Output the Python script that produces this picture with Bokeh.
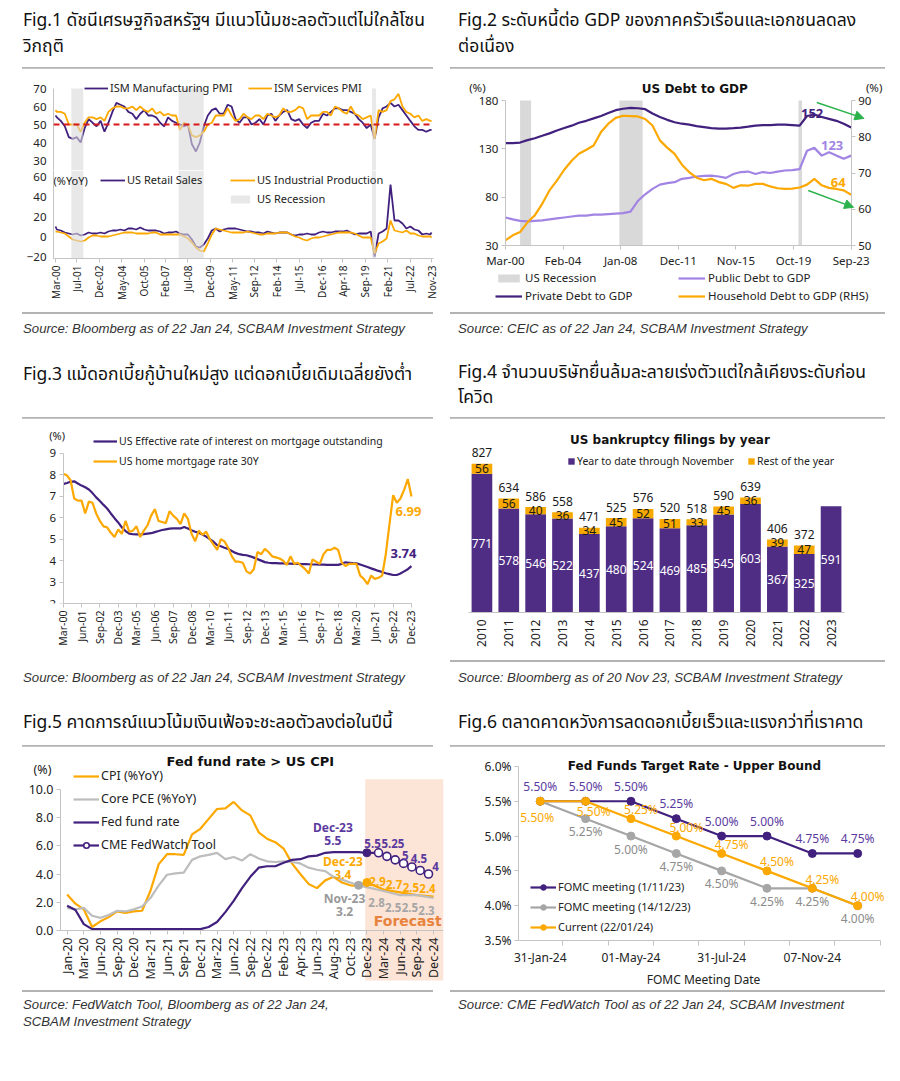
import math
import pandas as pd
from bokeh.plotting import figure
from bokeh.layouts import column, row
from bokeh.models import (ColumnDataSource, Range1d, LinearAxis, FixedTicker, Span, Legend, LegendItem,
                          Label, LabelSet, Arrow, NormalHead, BoxAnnotation, Div, FactorRange,
                          DatetimeTickFormatter, PrintfTickFormatter)
from bokeh.core.properties import value
from bokeh.embed import file_html
from bokeh.resources import INLINE

# ======================= DATA =======================
# Fig.1
fig1_ticks = ["Mar-00", "Jul-01", "Dec-02", "May-04", "Oct-05", "Feb-07", "Jul-08", "Dec-09", "May-11",
              "Sep-12", "Feb-14", "Jul-15", "Dec-16", "Apr-18", "Sep-19", "Feb-21", "Jul-22", "Nov-23"]
fig1_dates = (["2000-03"] + [f"{y}-{m:02d}" for y in range(2000, 2024) for m in (1, 4, 7, 10)
                             if "2000-04" <= f"{y}-{m:02d}" <= "2023-10"] + ["2023-11"])
ism_mfg = [55,
           54, 52, 49,
           43, 42, 43, 40, 48, 53, 51, 49, 52, 46, 51, 57, 62, 61, 60, 57, 56, 53, 56, 58,
           55, 55, 54, 51, 49, 54, 52, 51, 50, 49, 50, 39, 35, 40, 49, 55, 58, 59, 56, 56,
           61, 60, 53, 51, 54, 54, 50, 51, 53, 50, 55, 56, 52, 55, 57, 58, 53, 52, 53, 50,
           48, 51, 52, 52, 56, 55, 57, 59, 59, 58, 58, 57, 56, 53, 51, 48, 50, 42, 54, 59,
           60, 62, 60, 61, 58, 55, 52, 49,
           47, 47, 46, 47, 47]
ism_svc = [58,
           57, 57, 56,
           50, 50, 50, 46, 51, 54, 54, 53, 54, 52, 57, 59, 60, 60, 59, 59, 60, 58, 60, 58,
           57, 59, 56, 57, 55, 56, 55, 55, 47, 51, 50, 44, 43, 44, 46, 50, 51, 55, 55, 55,
           59, 55, 52, 53, 56, 54, 53, 55, 55, 53, 56, 55, 54, 55, 59, 57, 57, 58, 60, 59,
           53, 55, 55, 55, 57, 57, 55, 60, 59, 57, 56, 60, 56, 55, 53, 54, 55, 42, 58, 57,
           58, 63, 64, 67, 60, 57, 56, 54,
           55, 52, 53, 52, 52]
retail = [10,
          7, 6, 4,
          3, 2, 3, 1, 2, 4, 3, 3, 4, 3, 5, 6, 6, 7, 6, 8, 8, 7, 9, 7,
          6, 6, 6, 5, 3, 4, 4, 5, 3, 2, 2, -3, -10, -11, -8, -2, 6, 8, 5, 7,
          8, 8, 8, 7, 6, 5, 5, 4, 4, 3, 5, 4, 3, 4, 4, 4, 2, 1, 2, 2,
          3, 2, 2, 4, 5, 4, 4, 5, 5, 5, 6, 4, 2, 3, 3, 3, 5, -20, 3, 5,
          8, 52, 16, 16, 13, 8, 10, 7,
          6, 2, 3, 2, 4]
indprod = [5,
           5, 4, 3,
           0, -3, -4, -5, -4, -1, 1, 1, 0, 0, 0, 1, 2, 3, 4, 4, 4, 3, 3, 3,
           3, 4, 4, 2, 2, 2, 2, 2, 2, 0, -2, -6, -11, -14, -15, -7, 2, 8, 7, 6,
           5, 4, 4, 4, 4, 5, 4, 3, 2, 2, 3, 3, 3, 4, 4, 4, 2, 0, -1, -3,
           -4, -2, -1, -1, 0, 1, 2, 3, 4, 4, 4, 4, 3, 1, -1, -1, -1, -17, -7, -5,
           -2, 16, 6, 5, 4, 6, 3, 3,
           1, 0, 0, 0, -1]
recession_start = ["2001-03-01", "2007-12-01", "2020-02-01"]
recession_end = ["2001-11-30", "2009-06-30", "2020-04-30"]

# Fig.2 (semi-annual, Mar-00 .. Sep-23)
fig2_ticks = ["Mar-00", "Feb-04", "Jan-08", "Dec-11", "Nov-15", "Oct-19", "Sep-23"]
fig2_dates = [f"{2000 + (2 + 6 * k) // 12}-{(2 + 6 * k) % 12 + 1:02d}" for k in range(48)]
private_debt = [136, 136, 136.5, 139, 141, 143.5, 146, 149, 151.5, 154,
                157, 159, 161.5, 164, 167, 170, 171.5, 172.4, 172, 171,
                166.5, 163, 160, 157.5, 156, 155, 153.5, 152.5, 151.5, 151,
                151, 151.5, 152, 153, 154, 154.5, 154.5, 155, 155, 154.5,
                154, 164, 165.5, 163, 161, 159, 156, 152]
public_debt = [59, 57, 55.5, 55, 55.5, 56, 57, 58, 59, 60,
               61, 61, 62, 62, 62.5, 63, 63.5, 65, 76, 83,
               88.6, 93, 94.5, 95.5, 99, 100, 101.4, 102, 102.4, 101.4,
               100, 104, 106, 106.5, 104, 106, 105, 106.5, 107.6, 108,
               109, 128, 131, 123, 126.6, 123, 119.7, 123]
household_debt = [51.4, 52.8, 53.7, 56.4, 58.3, 61.5, 65.2, 67.9, 70.9, 73.4,
                  75.3, 76.4, 77.6, 81.3, 83.6, 85.2, 85.8, 85.7, 85.6, 84.9,
                  83.1, 79, 77, 75.3, 72.3, 70.2, 68.7, 68, 68.4, 67.5,
                  67, 65.9, 66.6, 66.5, 67, 67, 66.3, 65.8, 65.6, 65.7,
                  66, 66.8, 68.4, 66.6, 65.9, 65.6, 65.2, 64]

# Fig.3 (quarterly, Mar-00 .. Dec-23)
fig3_ticks = ["Mar-00", "Jun-01", "Sep-02", "Dec-03", "Mar-05", "Jun-06", "Sep-07", "Dec-08", "Mar-10",
              "Jun-11", "Sep-12", "Dec-13", "Mar-15", "Jun-16", "Sep-17", "Dec-18", "Mar-20", "Jun-21",
              "Sep-22", "Dec-23"]
fig3_dates = [f"{2000 + (2 + 3 * k) // 12}-{(2 + 3 * k) % 12 + 1:02d}" for k in range(96)]
mort_eff = [7.57, 7.62, 7.68, 7.7, 7.6, 7.5, 7.42, 7.32, 7.15, 6.95,
            6.78, 6.6, 6.43, 6.2, 5.98, 5.78, 5.55, 5.38, 5.26, 5.23,
            5.22, 5.22, 5.24, 5.26, 5.28, 5.33, 5.38, 5.43, 5.46, 5.49,
            5.5, 5.5, 5.5, 5.57, 5.5, 5.42, 5.35, 5.3, 5.22, 5.12,
            5.0, 4.88, 4.72, 4.67, 4.6, 4.55, 4.45, 4.36, 4.3, 4.27,
            4.25, 4.2, 4.14, 4.07, 4.0, 3.93, 3.9, 3.88, 3.88, 3.87,
            3.87, 3.86, 3.86, 3.85, 3.85, 3.84, 3.84, 3.83, 3.82, 3.82,
            3.81, 3.81, 3.8, 3.8, 3.8, 3.8, 3.85, 3.92, 3.9, 3.88,
            3.87, 3.82, 3.76, 3.7, 3.64, 3.58, 3.52, 3.47, 3.41, 3.37,
            3.33, 3.33, 3.4, 3.5, 3.6, 3.74]
mort_30y = [8.05, 7.98, 7.75, 6.9, 6.8, 6.8, 6.2, 6.75, 6.7, 6.2,
            5.85, 5.6, 5.55, 5.3, 5.1, 5.45, 5.25, 5.85, 5.35, 5.4,
            5.6, 5.1, 5.4, 5.65, 6.1, 6.4, 5.85, 5.8, 5.75, 6.3,
            6.1, 5.95, 5.7, 6.2, 5.95, 5.25, 4.9, 5.4, 5.2, 5.35,
            5.0, 4.75, 4.5, 5.0, 4.9, 4.6, 4.2, 3.95, 3.95, 3.9,
            3.5, 3.4, 3.6, 4.4, 4.3, 4.55, 4.4, 4.2, 4.15, 4.1,
            4.0, 3.8, 4.2, 3.85, 3.9, 3.75, 3.6, 3.4, 4.05, 3.95,
            3.85, 4.3, 4.5, 4.5, 4.6, 4.5, 3.9, 3.75, 3.85, 3.85,
            3.85, 3.3, 3.15, 2.9, 3.3, 3.15, 3.2, 3.3, 4.3, 5.7,
            7.05, 6.7, 6.9, 7.3, 7.8, 6.99]

# Fig.4
bk_years = ["2010", "2011", "2012", "2013", "2014", "2015", "2016", "2017", "2018", "2019",
            "2020", "2021", "2022", "2023"]
bk_ytd = [771, 578, 546, 522, 437, 480, 524, 469, 485, 545, 603, 367, 325, 591]
bk_rest = [56, 56, 40, 36, 34, 45, 52, 51, 33, 45, 36, 39, 47, 0]
bk_total = [827, 634, 586, 558, 471, 525, 576, 520, 518, 590, 639, 406, 372, None]

# Fig.5
fig5_labels = ["Jan-20", "Mar-20", "Jun-20", "Sep-20", "Dec-20", "Mar-21", "Jun-21", "Sep-21", "Dec-21",
               "Mar-22", "Jun-22", "Sep-22", "Dec-22", "Feb-23", "Apr-23", "Jun-23", "Aug-23", "Oct-23",
               "Dec-23", "Mar-24", "Jun-24", "Sep-24", "Dec-24"]
hist_x = [k / 2 for k in range(37)]
cpi = [2.55, 1.9, 1.5, 0.25, 0.65, 0.95, 1.35, 1.25, 1.35, 1.4,
       2.8, 4.7, 5.4, 5.4, 5.35, 6.8, 7.2, 7.9, 8.6, 8.65,
       9.1, 8.5, 8.15, 6.95, 6.5, 6.25, 5.8, 4.75, 4.0, 3.3,
       3.0, 3.55, 3.8, 3.4, 3.2, 3.15, 3.4]
core_pce = [1.6, 1.5, 1.6, 1.05, 0.9, 1.1, 1.4, 1.35, 1.5, 1.7,
            2.3, 3.2, 3.95, 4.05, 4.1, 5.0, 5.25, 5.35, 5.5, 5.05,
            5.2, 4.95, 5.4, 5.1, 4.9, 4.85, 4.9, 4.85, 4.75, 4.45,
            4.3, 4.2, 3.8, 3.6, 3.4, 3.2]
fed_funds = [1.75, 1.45, 0.45, 0.1, 0.1, 0.1, 0.1, 0.1, 0.1, 0.1,
             0.1, 0.1, 0.1, 0.1, 0.1, 0.1, 0.1, 0.25, 0.6, 1.3,
             2.1, 3.0, 3.8, 4.45, 4.55, 4.55, 4.8, 5.0, 5.05, 5.25,
             5.3, 5.5, 5.55, 5.55, 5.55, 5.55, 5.5]
cpi_fc_x = [18, 19, 20, 21, 22]
cpi_fc = [3.4, 2.9, 2.7, 2.5, 2.4]
pce_fc_x = [17.5, 19, 20, 21, 22]
pce_fc = [3.2, 2.8, 2.5, 2.5, 2.3]
fedwatch_x = [18, 18.7, 19.2, 19.7, 20.2, 20.7, 21.2, 21.7]
fedwatch = [5.5, 5.5, 5.25, 5.0, 4.75, 4.5, 4.25, 4.0]
fedwatch_labels = ["", "5.5", "5.25", "5", "", "4.5", "", "4"]

# Fig.6
fomc_dates = ["31-Jan-24", "20-Mar-24", "01-May-24", "12-Jun-24", "31-Jul-24", "18-Sep-24", "07-Nov-24",
              "18-Dec-24"]
fomc_nov = [5.50, 5.50, 5.50, 5.25, 5.00, 5.00, 4.75, 4.75]
fomc_dec = [5.50, 5.25, 5.00, 4.75, 4.50, 4.25, 4.25, 4.00]
fomc_cur = [5.50, 5.50, 5.25, 5.00, 4.75, 4.50, 4.25, 4.00]

# ======================= STYLE =======================
PUR = "#41207e"
ORG = "#fca800"
LAV = "#a184e3"
GRY = "#bdbdbd"
REC = "#d9d9d9"
AXC = "#c4c4c4"
TXT = "#222222"
F = "Noto Sans"
FB = "DejaVu Sans"
TH = "'Noto Sans Thai','Noto Sans Thai Looped','Garuda','Loma','Noto Sans',sans-serif"
SRCF = "'Liberation Sans',Arial,sans-serif"


def ts(s):
    return pd.Timestamp(s)


def ms(s):
    return pd.Timestamp(s).value / 1e6


def tick_ms(labels):
    return [pd.to_datetime(l, format="%b-%y").value / 1e6 for l in labels]


DTF = DatetimeTickFormatter(days="%b-%y", months="%b-%y", years="%b-%y")


def fig(**kw):
    p = figure(output_backend="svg", toolbar_location=None, **kw)
    p.grid.visible = False
    p.outline_line_color = None
    p.background_fill_color = "white"
    p.border_fill_color = "white"
    return p


def style_axes(p, fs="11px"):
    for ax in p.axis:
        ax.axis_line_color = AXC
        ax.major_tick_line_color = AXC
        ax.minor_tick_line_color = None
        ax.major_tick_in = 0
        ax.major_tick_out = 4
        ax.major_label_text_font = F
        ax.major_label_text_font_size = fs
        ax.major_label_text_color = TXT
        ax.major_label_standoff = 3


def legend(items, loc, fs="11px", **kw):
    return Legend(items=[LegendItem(label=l, renderers=r) for l, r in items], location=loc,
                  background_fill_alpha=0, border_line_color=None, label_text_font=F,
                  label_text_font_size=fs, label_text_color=TXT, padding=0, margin=0, **kw)


def lab(p, x, y, text, color, size="12px", bold=True, dx=0, dy=0, align="center", font=F, **kw):
    p.add_layout(Label(x=x, y=y, text=text, x_offset=dx, y_offset=dy, text_color=color,
                       text_font_size=size, text_font_style="bold" if bold else "normal",
                       text_align=align, text_baseline="middle", text_font=font, **kw))


def sep_html(left, width, top):
    return (f'<div style="position:absolute;left:{left}px;top:{top}px;width:{width}px;'
            f'height:0;border-top:2px solid #b3b3b3;"></div>')


def title_div(w, h, left, top, html, sep_left, sep_w, sep_top, lh=26):
    sep = sep_html(sep_left, sep_w, sep_top) if sep_top is not None else ""
    t = (f'<div style="position:relative;width:{w}px;height:{h}px;">'
         f'<div style="position:absolute;left:{left}px;top:{top}px;font-family:{TH};font-size:17.5px;'
         f'line-height:{lh}px;color:#111;white-space:nowrap;">{html}</div>{sep}</div>')
    return Div(text=t, width=w, height=h, margin=(0, 0, 0, 0))


def src_div(w, h, left, top, html, sep_left, sep_w, sep_top):
    sep = sep_html(sep_left, sep_w, sep_top) if sep_top is not None else ""
    t = (f'<div style="position:relative;width:{w}px;height:{h}px;">{sep}'
         f'<div style="position:absolute;left:{left}px;top:{top}px;font-family:{SRCF};font-style:italic;'
         f'font-size:13.2px;line-height:17px;color:#333;white-space:nowrap;">{html}</div></div>')
    return Div(text=t, width=w, height=h, margin=(0, 0, 0, 0))


LW, RW = 442, 440

# ======================= FIG 1 =======================
src1 = ColumnDataSource(dict(x=[ts(d + "-01") for d in fig1_dates], mfg=ism_mfg, svc=ism_svc,
                             rs=retail, ip=indprod))
rec_src = ColumnDataSource(dict(l=[ts(s) for s in recession_start], r=[ts(s) for s in recession_end]))
xr1 = Range1d(ts("2000-01-15"), ts("2023-12-15"))
PMI_LO, PMI_HI = 24.45, 76.67
p1a = fig(width=LW, height=102, x_axis_type="datetime", x_range=xr1, y_range=Range1d(PMI_LO, PMI_HI),
          min_border_left=45, min_border_right=17, min_border_top=8, min_border_bottom=0, title=None)
r_m = p1a.line("x", "mfg", source=src1, color=PUR, line_width=1.8)
r_s = p1a.line("x", "svc", source=src1, color=ORG, line_width=1.8)
p1a.quad(left="l", right="r", bottom=PMI_LO, top=70, source=rec_src, fill_color=REC, fill_alpha=0.6,
         line_color=None)
p1a.add_layout(Span(location=50, dimension="width", line_color="#d7191c", line_dash="6 4", line_width=2))
p1a.xaxis.visible = False
p1a.yaxis.ticker = FixedTicker(ticks=[30, 40, 50, 60, 70])
p1a.yaxis.bounds = (PMI_LO, 70)
style_axes(p1a, "11.5px")
p1a.yaxis.major_tick_line_color = None
p1a.add_layout(legend([("ISM Manufacturing PMI", [r_m]), ("ISM Services PMI", [r_s])], (31, 75), "11px",
                      orientation="horizontal", glyph_width=24, glyph_height=10, label_standoff=2,
                      label_width=128, spacing=10))

RS_LO, RS_HI = -22, 66
p1b = fig(width=LW, height=142, x_axis_type="datetime", x_range=xr1, y_range=Range1d(RS_LO, RS_HI),
          min_border_left=45, min_border_right=17, min_border_top=0, min_border_bottom=54, title=None)
r_rs = p1b.line("x", "rs", source=src1, color=PUR, line_width=1.8)
r_ip = p1b.line("x", "ip", source=src1, color=ORG, line_width=1.8)
r_rec = p1b.quad(left="l", right="r", bottom=RS_LO, top=RS_HI, source=rec_src, fill_color=REC,
                 fill_alpha=0.6, line_color=None)
p1b.yaxis.ticker = FixedTicker(ticks=[-20, 0, 20, 40, 60])
p1b.xaxis.ticker = FixedTicker(ticks=tick_ms(fig1_ticks))
p1b.xaxis.formatter = DTF
p1b.xaxis.major_label_orientation = math.pi / 2
style_axes(p1b, "11.5px")
p1b.yaxis.major_tick_line_color = None
p1b.xaxis.major_label_text_font_size = "10px"
p1b.add_layout(legend([("US Retail Sales", [r_rs]), ("US Industrial Production", [r_ip])], (47, 71),
                      "11px", orientation="horizontal", glyph_width=25, glyph_height=10, label_standoff=2,
                      label_width=95, spacing=8))
p1b.add_layout(legend([("US Recession", [r_rec])], (175, 52), "11px", glyph_width=24, glyph_height=10,
                      label_standoff=5))
lab(p1b, ms("2000-01-15"), 56, "(%YoY)", TXT, "11px", bold=False, dx=0, align="left")

# ======================= FIG 2 =======================
src2 = ColumnDataSource(dict(x=[ts(d + "-01") for d in fig2_dates], pri=private_debt, pub=public_debt,
                             hh=household_debt))
F2_X0, F2_X1 = "2000-03-01", "2023-09-01"
p2 = fig(width=RW, height=244, x_axis_type="datetime", x_range=Range1d(ts("1997-06-15"), ts("2026-01-01")),
         y_range=Range1d(-37.2, 200.7), min_border_left=15, min_border_right=5, min_border_top=12,
         min_border_bottom=2, title=None)
p2.extra_y_ranges = {"rhs": Range1d(32.07, 95.52)}
r2_rec = p2.quad(left="l", right="r", bottom=30, top=180, source=rec_src, fill_color=REC, line_color=None)
r2_pub = p2.line("x", "pub", source=src2, color=LAV, line_width=2.2)
r2_pri = p2.line("x", "pri", source=src2, color=PUR, line_width=2.2)
r2_hh = p2.line("x", "hh", source=src2, color=ORG, line_width=2.2, y_range_name="rhs")
p2.add_layout(LinearAxis(y_range_name="rhs", ticker=FixedTicker(ticks=[50, 60, 70, 80, 90]),
                         fixed_location=ms(F2_X1), bounds=(50, 90)), "right")
p2.left[0].ticker = FixedTicker(ticks=[30, 80, 130, 180])
p2.left[0].fixed_location = ms(F2_X0)
p2.left[0].bounds = (30, 180)
p2.xaxis.ticker = FixedTicker(ticks=tick_ms(fig2_ticks))
p2.xaxis.formatter = DTF
p2.xaxis.fixed_location = 30
p2.xaxis.bounds = (ms(F2_X0), ms(F2_X1))
style_axes(p2, "11.5px")
lab(p2, ms("2013-01-15"), 180, "US Debt to GDP", "#111111", "12px", dy=12, font=FB)
p2.add_layout(legend([("US Recession", [r2_rec]), ("Public Debt to GDP", [r2_pub]),
                      ("Private Debt to GDP", [r2_pri]), ("Household Debt to GDP (RHS)", [r2_hh])],
                     (30, 7), "11.5px", orientation="horizontal", ncols=2, glyph_width=27,
                     glyph_height=10, label_standoff=3, label_width=150, spacing=3))
lab(p2, ms(F2_X0), 180, "(%)", TXT, "11.5px", bold=False, dx=-28, dy=13)
lab(p2, ms(F2_X1), 180, "(%)", TXT, "11.5px", bold=False, dx=23, dy=13)
lab(p2, ms(fig2_dates[-1] + "-01"), private_debt[-1], f"{private_debt[-1]:.0f}", PUR, "13px", dx=-39, dy=14)
lab(p2, ms(fig2_dates[-1] + "-01"), public_debt[-1], f"{public_debt[-1]:.0f}", LAV, "13px", dx=-19, dy=10)
lab(p2, ms(fig2_dates[-1] + "-01"), household_debt[-1], f"{household_debt[-1]:.0f}", ORG, "13px", dx=-13,
    dy=12, y_range_name="rhs")
GREEN = "#2bb24c"
p2.add_layout(Arrow(end=NormalHead(size=9, fill_color=GREEN, line_color=GREEN), x_start=ms("2021-05-01"),
                    y_start=178, x_end=ms("2024-07-15"), y_end=161.5, line_color=GREEN, line_width=1.5))
p2.add_layout(Arrow(end=NormalHead(size=9, fill_color=GREEN, line_color=GREEN), x_start=ms("2020-10-01"),
                    y_start=87, x_end=ms("2023-11-01"), y_end=69.5, line_color=GREEN, line_width=1.5))

# ======================= FIG 3 =======================
src3 = ColumnDataSource(dict(x=[ts(d + "-01") for d in fig3_dates], eff=mort_eff, m30=mort_30y))
F3_X0, F3_X1 = "2000-03-01", "2023-12-01"
p3 = fig(width=LW, height=242, x_axis_type="datetime", x_range=Range1d(ts("1997-12-08"), ts("2025-11-23")),
         y_range=Range1d(2, 10.07), min_border_left=22, min_border_right=10, min_border_top=12,
         min_border_bottom=57, title=None)
r3_eff = p3.line("x", "eff", source=src3, color=PUR, line_width=2.2)
r3_30 = p3.line("x", "m30", source=src3, color=ORG, line_width=2.2)
p3.yaxis.ticker = FixedTicker(ticks=[2, 3, 4, 5, 6, 7, 8, 9])
p3.yaxis.fixed_location = ms(F3_X0)
p3.yaxis.bounds = (2, 9)
p3.xaxis.ticker = FixedTicker(ticks=tick_ms(fig3_ticks))
p3.xaxis.formatter = DTF
p3.xaxis.bounds = (ms(F3_X0), ms(F3_X1))
p3.xaxis.major_label_orientation = math.pi / 2
style_axes(p3, "11.5px")
p3.xaxis.major_label_text_font_size = "10.5px"
p3.add_layout(legend([("US Effective rate of interest on mortgage outstanding", [r3_eff]),
                      ("US home mortgage rate 30Y", [r3_30])], (63, 135), "10.5px", glyph_width=24,
                     glyph_height=10, label_standoff=2, spacing=6))
lab(p3, ms(F3_X0), 9, "(%)", TXT, "11px", bold=False, dx=-6, dy=18)
lab(p3, ms(fig3_dates[-1] + "-01"), mort_30y[-1], f"{mort_30y[-1]:.2f}", ORG, "13px", dx=-3, dy=-15)
lab(p3, ms(fig3_dates[-1] + "-01"), mort_eff[-1], f"{mort_eff[-1]:.2f}", PUR, "13px", dx=-8, dy=13)

# ======================= FIG 4 =======================
BPUR = "#4f2d85"
BORG = "#f7a900"
BK_HI = 1023
src4 = ColumnDataSource(dict(year=bk_years, ytd=bk_ytd, rest=bk_rest,
                             ytd_mid=[v / 2 for v in bk_ytd], ytd_txt=[str(v) for v in bk_ytd]))
rest_idx = [i for i, v in enumerate(bk_rest) if v > 0]
src4r = ColumnDataSource(dict(year=[bk_years[i] for i in rest_idx],
                              mid=[bk_ytd[i] + bk_rest[i] / 2 for i in rest_idx],
                              txt=[str(bk_rest[i]) for i in rest_idx]))
tot_idx = [i for i, v in enumerate(bk_total) if v is not None]
src4t = ColumnDataSource(dict(year=[bk_years[i] for i in tot_idx], tot=[bk_total[i] for i in tot_idx],
                              txt=[str(bk_total[i]) for i in tot_idx]))
p4 = fig(width=RW, height=242, x_range=FactorRange(factors=bk_years), y_range=Range1d(0, BK_HI),
         min_border_left=18, min_border_right=46, min_border_top=10, min_border_bottom=48, title=None)
rs4 = p4.vbar_stack(["ytd", "rest"], x="year", width=0.77, color=[BPUR, BORG], source=src4, line_color=None)
p4.add_layout(LabelSet(x="year", y="ytd_mid", text="ytd_txt", source=src4, text_color="white",
                       text_font=value(F), text_font_size="12px", text_align="center",
                       text_baseline="middle"))
p4.add_layout(LabelSet(x="year", y="mid", text="txt", source=src4r, text_color="#1a1a1a",
                       text_font=value(F), text_font_size="12px", text_align="center",
                       text_baseline="middle"))
p4.add_layout(LabelSet(x="year", y="tot", text="txt", source=src4t, text_color="#1a1a1a", y_offset=11,
                       text_font=value(F), text_font_size="12px", text_align="center",
                       text_baseline="middle"))
p4.add_layout(LabelSet(x="x", y="y", text="t", source=ColumnDataSource(
    dict(x=[bk_years[7]], y=[BK_HI], t=["US bankruptcy filings by year"])), y_offset=-11,
    text_color="#111111", text_font=value(FB), text_font_size="12px", text_font_style="bold",
    text_align="center", text_baseline="middle"))
p4.yaxis.visible = False
p4.xaxis.major_label_orientation = math.pi / 2
style_axes(p4, "12px")
p4.xaxis.major_tick_line_color = None
p4.add_layout(legend([("Year to date through November", [rs4[0]]), ("Rest of the year", [rs4[1]])],
                     (99, 144), "10.5px", orientation="horizontal", glyph_width=8, glyph_height=8,
                     label_standoff=2, label_width=160, spacing=10))

# ======================= FIG 5 =======================
FC_ORG = "#e8833d"
LPUR = "#5b3aa0"
p5 = fig(width=LW, height=244, x_range=Range1d(-2.68, 22.6), y_range=Range1d(-3.89, 12.74),
         min_border_left=14, min_border_right=7, min_border_top=4, min_border_bottom=5, title=None)
p5.add_layout(BoxAnnotation(left=17.9, right=22.6, bottom=-3.54, top=10.7, fill_color="#fce4d6",
                            fill_alpha=1.0, line_color=None, level="underlay"))
r5_cpi = p5.line(hist_x, cpi, color=ORG, line_width=2.2)
p5.line(cpi_fc_x, cpi_fc, color=ORG, line_width=2.2)
r5_pce = p5.line(hist_x[:len(core_pce)], core_pce, color=GRY, line_width=2.2)
p5.line(pce_fc_x, pce_fc, color=GRY, line_width=2.2)
r5_ffr = p5.line(hist_x, fed_funds, color=PUR, line_width=2.2)
r5_fw = p5.line(fedwatch_x, fedwatch, color=PUR, line_width=2.2)
r5_fwm = p5.scatter(fedwatch_x[1:], fedwatch[1:], size=8, fill_color="white", line_color=PUR, line_width=1.6)
p5.scatter([hist_x[-1]], [fed_funds[-1]], size=8, color=PUR)
p5.scatter([hist_x[-1]], [cpi[-1]], size=8, color=ORG)
p5.scatter([hist_x[len(core_pce) - 1]], [core_pce[-1]], size=8, color="#a6a6a6")
p5.yaxis.ticker = FixedTicker(ticks=[0, 2, 4, 6, 8, 10])
p5.yaxis.formatter = PrintfTickFormatter(format="%.1f")
p5.yaxis.fixed_location = -0.4
p5.yaxis.bounds = (0, 10)
p5.xaxis.ticker = FixedTicker(ticks=list(range(len(fig5_labels))))
p5.xaxis.major_label_overrides = {i: l for i, l in enumerate(fig5_labels)}
p5.xaxis.major_label_orientation = math.pi / 2
p5.xaxis.fixed_location = 0
p5.xaxis.bounds = (-0.4, 22.6)
style_axes(p5, "12.5px")
lab(p5, 11.0, 10, "Fed fund rate > US CPI", "#111111", "13px", dy=28, font=FB)
p5.add_layout(legend([("CPI (%YoY)", [r5_cpi]), ("Core PCE (%YoY)", [r5_pce]), ("Fed fund rate", [r5_ffr]),
                      ("CME FedWatch Tool", [r5_fw, r5_fwm])], (51, 132), "12.5px", glyph_width=26,
                     glyph_height=14, label_standoff=2, spacing=6))
lab(p5, -0.4, 10, "(%)", TXT, "12.5px", bold=False, dx=-18, dy=20)
lab(p5, hist_x[-1], fed_funds[-1], "Dec-23", LPUR, "12px", dx=-34, dy=25)
lab(p5, hist_x[-1], fed_funds[-1], f"{fed_funds[-1]:.1f}", LPUR, "12px", dx=-34, dy=12)
lab(p5, hist_x[-1], cpi[-1], "Dec-23", ORG, "12px", dx=-24, dy=21)
lab(p5, hist_x[-1], cpi[-1], f"{cpi[-1]:.1f}", ORG, "12px", dx=-24, dy=8)
lab(p5, hist_x[len(core_pce) - 1], core_pce[-1], "Nov-23", "#999999", "12px", dx=-14, dy=-13)
lab(p5, hist_x[len(core_pce) - 1], core_pce[-1], f"{core_pce[-1]:.1f}", "#999999", "12px", dx=-14, dy=-26)
for xv, yv in zip(cpi_fc_x[1:], cpi_fc[1:]):
    lab(p5, xv, yv, f"{yv:.1f}", ORG, "11.5px", dx=-6, dy=8)
for xv, yv in zip(pce_fc_x[1:], pce_fc[1:]):
    lab(p5, xv, yv, f"{yv:.1f}", "#a6a6a6", "11.5px", dx=-7, dy=-12)
fw_off = {1: (-6, 9), 2: (6, 13), 3: (10, 4), 5: (7, 8), 7: (7, 8)}
for i, (dxo, dyo) in fw_off.items():
    lab(p5, fedwatch_x[i], fedwatch[i], fedwatch_labels[i], LPUR, "11.5px", dx=dxo, dy=dyo)
lab(p5, 20.45, 0.7, "Forecast", FC_ORG, "14px", font=FB)

# ======================= FIG 6 =======================
xi = list(range(len(fomc_dates)))
p6 = fig(width=RW, height=244, x_range=Range1d(-0.48, 7.68), y_range=Range1d(3.5, 6.229),
         min_border_left=68, min_border_right=2, min_border_top=4, min_border_bottom=49, title=None)
r6a = p6.line(xi, fomc_nov, color=PUR, line_width=2.2)
r6am = p6.scatter(xi, fomc_nov, size=8, color=PUR)
r6b = p6.line(xi, fomc_dec, color="#a6a6a6", line_width=2.2)
r6bm = p6.scatter(xi, fomc_dec, size=8, color="#a6a6a6")
r6c = p6.line(xi, fomc_cur, color=ORG, line_width=2.2)
r6cm = p6.scatter(xi, fomc_cur, size=8, color=ORG)
p6.yaxis.ticker = FixedTicker(ticks=[3.5, 4.0, 4.5, 5.0, 5.5, 6.0])
p6.yaxis.formatter = PrintfTickFormatter(format="%.1f%%")
p6.yaxis.bounds = (3.5, 6.0)
p6.xaxis.ticker = FixedTicker(ticks=xi[::2], minor_ticks=[i - 0.5 for i in range(len(xi) + 1)])
p6.xaxis.major_label_overrides = {i: fomc_dates[i] for i in xi[::2]}
p6.xaxis.bounds = (-0.48, 7.5)
style_axes(p6, "12px")
p6.xaxis.major_tick_line_color = None
p6.xaxis.minor_tick_line_color = AXC
p6.xaxis.minor_tick_in = 0
p6.xaxis.minor_tick_out = 5
p6.xaxis.axis_label = "FOMC Meeting Date"
p6.xaxis.axis_label_text_font = F
p6.xaxis.axis_label_text_font_size = "12px"
p6.xaxis.axis_label_text_font_style = "normal"
p6.xaxis.axis_label_text_color = TXT
p6.xaxis.axis_label_standoff = 2
lab(p6, 3.4, 6.0, "Fed Funds Target Rate - Upper Bound", "#111111", "12px", font=FB)
p6.add_layout(LabelSet(x="x", y="y", text="t", source=ColumnDataSource(
    dict(x=xi, y=fomc_nov, t=[f"{v:.2f}%" for v in fomc_nov])), y_offset=15, text_color=LPUR,
    text_font=value(F), text_font_size="12px", text_align="center", text_baseline="middle"))
p6.add_layout(LabelSet(x="x", y="y", text="t", source=ColumnDataSource(
    dict(x=xi[1:], y=fomc_dec[1:], t=[f"{v:.2f}%" for v in fomc_dec[1:]])), y_offset=-13,
    text_color="#8c8c8c", text_font=value(F), text_font_size="12px", text_align="center",
    text_baseline="middle"))
p6.add_layout(LabelSet(x="x", y="y", text="t", source=ColumnDataSource(
    dict(x=xi[:1], y=fomc_cur[:1], t=[f"{v:.2f}%" for v in fomc_cur[:1]])), x_offset=-3, y_offset=-16,
    text_color=ORG, text_font=value(F), text_font_size="12px", text_align="center", text_baseline="middle"))
p6.add_layout(LabelSet(x="x", y="y", text="t", source=ColumnDataSource(
    dict(x=xi[1:2], y=fomc_cur[1:2], t=[f"{v:.2f}%" for v in fomc_cur[1:2]])), x_offset=8, y_offset=-10,
    text_color=ORG, text_font=value(F), text_font_size="12px", text_align="center", text_baseline="middle"))
p6.add_layout(LabelSet(x="x", y="y", text="t", source=ColumnDataSource(
    dict(x=xi[2:], y=fomc_cur[2:], t=[f"{v:.2f}%" for v in fomc_cur[2:]])), x_offset=10, y_offset=9,
    text_color=ORG, text_font=value(F), text_font_size="12px", text_align="center", text_baseline="middle"))
p6.add_layout(legend([("FOMC meeting (1/11/23)", [r6a, r6am]), ("FOMC meeting (14/12/23)", [r6b, r6bm]),
                      ("Current (22/01/24)", [r6c, r6cm])], (12, 6), "11px", glyph_width=26,
                     glyph_height=14, label_standoff=2, spacing=5))

# ======================= LAYOUT =======================
t1 = title_div(LW, 60, 15, 0, "Fig.1 ดัชนีเศรษฐกิจสหรัฐฯ มีแนวโน้มชะลอตัวแต่ไม่ใกล้โซน<br>วิกฤติ", 14, 411, 59)
t2 = title_div(RW, 60, 8, 0, "Fig.2 ระดับหนี้ต่อ GDP ของภาคครัวเรือนและเอกชนลดลง<br>ต่อเนื่อง", 0, 435, 59)
t3 = title_div(LW, 73, 15, 17, "Fig.3 แม้ดอกเบี้ยกู้บ้านใหม่สูง แต่ดอกเบี้ยเดิมเฉลี่ยยังต่ำ", 14, 411, 72)
t4 = title_div(RW, 73, 8, 15, "Fig.4 จำนวนบริษัทยื่นล้มละลายเร่งตัวแต่ใกล้เคียงระดับก่อน<br>โควิด", 0, 435, 72,
               lh=25)
t5 = title_div(LW, 53, 15, 17, "Fig.5 คาดการณ์แนวโน้มเงินเฟ้อจะชะลอตัวลงต่อในปีนี้", 14, 411, 52)
t6 = title_div(RW, 53, 8, 17, "Fig.6 ตลาดคาดหวังการลดดอกเบี้ยเร็วและแรงกว่าที่เราคาด", 0, 435, 52)

s1 = src_div(LW, 33, 15, 8, "Source: Bloomberg as of 22 Jan 24, SCBAM Investment Strategy", 14, 411, 0)
s2 = src_div(RW, 33, 8, 8, "Source: CEIC as of 22 Jan 24, SCBAM Investment Strategy", 0, 435, 0)
s3 = src_div(LW, 33, 15, 9, "Source: Bloomberg as of 22 Jan 24, SCBAM Investment Strategy", 14, 411, None)
s4 = src_div(RW, 33, 8, 9, "Source: Bloomberg as of 20 Nov 23, SCBAM Investment Strategy", 0, 435, 0)
s5 = src_div(LW, 50, 15, 6, "Source: FedWatch Tool, Bloomberg as of 22 Jan 24,<br>SCBAM Investment Strategy",
             14, 411, 0)
s6 = src_div(RW, 50, 8, 6, "Source: CME FedWatch Tool as of 22 Jan 24, SCBAM Investment", 0, 435, 0)

layout = column(
    row(column(t1, p1a, p1b, s1), column(t2, p2, s2)),
    row(column(t3, p3, s3), column(t4, p4, s4)),
    row(column(t5, p5, s5), column(t6, p6, s6)),
    margin=(8, 0, 0, 8),
)

open("out.html", "w").write(file_html(layout, INLINE, title="US economy charts"))
